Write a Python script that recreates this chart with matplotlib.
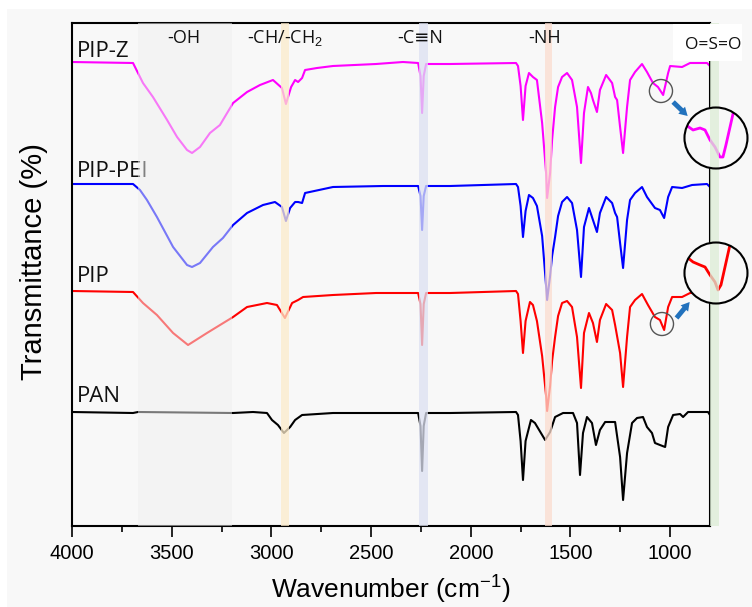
import matplotlib
matplotlib.use("Agg")
import matplotlib.pyplot as plt
from matplotlib.patches import Ellipse, Rectangle

plt.rcParams['mathtext.fontset'] = 'custom'
plt.rcParams['mathtext.rm'] = 'Liberation Sans'
plt.rcParams['mathtext.it'] = 'Liberation Sans'

# ---------------- data (offset transmittance, arbitrary units) ----------------
wn_pipz = [4000, 3694, 3644, 3594, 3523, 3473, 3423, 3398, 3358, 3308, 3258, 3192, 3122, 3057,
           2992, 2947, 2927, 2901, 2881, 2866, 2846, 2831, 2771, 2691, 2475, 2340, 2264, 2252,
           2244, 2236, 2224, 2104, 1773, 1763, 1750, 1738, 1725, 1708, 1688, 1668, 1642, 1622,
           1617, 1602, 1592, 1577, 1562, 1542, 1517, 1492, 1467, 1447, 1432, 1412, 1397, 1387,
           1367, 1352, 1321, 1291, 1276, 1266, 1251, 1236, 1216, 1201, 1176, 1141, 1116, 1086,
           1061, 1035, 1010, 1000, 940, 900, 815, 800]
t_pipz = [464, 463, 443, 429, 406, 389, 376, 373, 379, 393, 401, 423, 434, 441,
          446, 438, 422, 439, 446, 444, 448, 456, 458, 460, 462, 464, 463, 450,
          413, 450, 462, 462, 463, 460, 440, 406, 440, 453, 449, 446, 403, 353,
          328, 353, 386, 419, 439, 449, 453, 446, 419, 363, 413, 439, 433, 426,
          414, 436, 451, 443, 429, 426, 399, 373, 419, 446, 454, 462, 454, 443,
          439, 431, 453, 460, 459, 463, 463, 460]

wn_pippei = [4000, 3694, 3659, 3624, 3574, 3493, 3423, 3398, 3358, 3293, 3243, 3192, 3122, 3042,
             2982, 2947, 2927, 2906, 2881, 2866, 2846, 2831, 2691, 2440, 2264, 2252, 2244, 2236,
             2224, 2104, 1773, 1763, 1750, 1738, 1725, 1708, 1688, 1668, 1642, 1622, 1617, 1602,
             1592, 1577, 1562, 1542, 1517, 1492, 1467, 1447, 1432, 1407, 1392, 1367, 1352, 1321,
             1291, 1276, 1266, 1251, 1236, 1216, 1201, 1176, 1141, 1116, 1076, 1051, 1030, 1010,
             990, 940, 890, 815, 800]
t_pippei = [342, 342, 336, 326, 309, 279, 261, 259, 263, 279, 288, 301, 313, 321,
            324, 319, 305, 318, 324, 324, 323, 333, 339, 340, 340, 330, 296, 330,
            340, 340, 342, 339, 320, 289, 315, 331, 328, 320, 290, 240, 226, 250,
            270, 289, 310, 324, 329, 323, 296, 249, 299, 318, 309, 294, 313, 329,
            323, 313, 309, 283, 258, 306, 326, 333, 339, 329, 318, 316, 308, 329,
            339, 338, 341, 342, 339]

wn_pip = [4000, 3694, 3644, 3574, 3493, 3418, 3323, 3192, 3122, 3022, 2972, 2932, 2896, 2866,
          2841, 2691, 2475, 2264, 2252, 2244, 2236, 2224, 2104, 1773, 1763, 1750, 1738, 1725,
          1703, 1688, 1668, 1642, 1622, 1617, 1602, 1592, 1577, 1562, 1542, 1517, 1492, 1467,
          1447, 1432, 1407, 1387, 1367, 1352, 1321, 1291, 1276, 1251, 1236, 1216, 1201, 1176,
          1141, 1111, 1076, 1051, 1030, 1010, 990, 940, 900, 800]
t_pip = [235, 234, 223, 211, 193, 181, 193, 209, 219, 223, 221, 208, 223, 226,
         229, 231, 233, 233, 222, 181, 222, 233, 233, 235, 232, 205, 173, 205,
         224, 221, 205, 170, 130, 115, 140, 165, 189, 210, 223, 225, 219, 189,
         138, 193, 213, 203, 184, 206, 222, 216, 201, 173, 139, 189, 219, 226,
         232, 221, 209, 206, 196, 219, 229, 229, 233, 233]

wn_pan = [4000, 3694, 3669, 3192, 3092, 3022, 2997, 2967, 2937, 2906, 2881, 2846, 2691, 2264,
          2252, 2244, 2236, 2224, 2104, 1773, 1763, 1750, 1738, 1725, 1698, 1678, 1627, 1602,
          1577, 1537, 1487, 1467, 1452, 1437, 1417, 1392, 1372, 1352, 1326, 1276, 1251, 1236,
          1216, 1191, 1166, 1136, 1116, 1091, 1076, 1051, 1025, 1010, 985, 950, 935, 910,
          810, 800]
t_pan = [114, 113, 114, 113, 114, 113, 106, 101, 93, 99, 106, 111, 113, 113,
         100, 55, 100, 113, 113, 114, 111, 85, 46, 85, 106, 103, 86, 94,
         109, 113, 113, 103, 51, 93, 109, 103, 81, 96, 104, 104, 69, 26,
         73, 103, 108, 109, 99, 93, 83, 81, 79, 99, 111, 112, 109, 114,
         114, 111]

# magnified views shown in the circular insets
wn_zoom_pipz = [935, 885, 850, 825, 800, 775, 750, 735, 720, 670]
t_zoom_pipz = [403, 396, 398, 396, 386, 379, 369, 369, 381, 425]
wn_zoom_pip = [935, 885, 850, 825, 800, 775, 760, 745, 690]
t_zoom_pip = [272, 264, 261, 259, 251, 244, 236, 241, 290]

names = ["PIP-Z", "PIP-PEI", "PIP", "PAN"]
colors = ["#FF00FF", "#0000FF", "#FF0000", "#000000"]
label_y = [469, 349, 244, 124]

bands = [(3670, 3200), (2952, 2912), (2258, 2213), (1628, 1594), (800, 757)]
band_colors = ["#F0F0F0", "#FCEBCB", "#DDE1F2", "#FBDCCF", "#DCEDD6"]
band_labels = ["-OH", "-CH/-CH$_2$", "-C\u2261N", "-NH"]
band_label_x = [3438, 2932, 2254, 1632]

BG = "#F8F8F8"

fig = plt.figure(figsize=(7.52, 6.07), dpi=100, facecolor="white")
fig.patches.append(Rectangle((7 / 752, 0), 1, 598 / 607, transform=fig.transFigure,
                             facecolor=BG, edgecolor="none", zorder=-10))
ax = fig.add_axes([72 / 752, 81 / 607, 638 / 752, 503 / 607])
ax.set_facecolor(BG)

for w, t, c in zip([wn_pipz, wn_pippei, wn_pip, wn_pan], [t_pipz, t_pippei, t_pip, t_pan], colors):
    ax.plot(w, t, color=c, lw=1.5, zorder=2, solid_joinstyle="round")

lab_font = ["Open Sans", "DejaVu Sans"]
for n, y in zip(names, label_y):
    ax.text(3975, y, n, fontsize=16, family=lab_font, ha="left", va="baseline",
            color="#111111", zorder=2.5)

for i, ((a, b), c) in enumerate(zip(bands, band_colors)):
    sp = ax.axvspan(a, b, color=c, alpha=0.5 if i == 0 else 0.75, lw=0,
                    zorder=3 if i < 4 else 7)
    if i == 4:
        sp.set_clip_on(False)

for s, x in zip(band_labels, band_label_x):
    ax.text(x, 483, s, fontsize=13, family=lab_font, ha="center", va="baseline",
            color="#111111", zorder=4)

# insets
for (cx, cy), wz, tz, c in [((770, 388), wn_zoom_pipz, t_zoom_pipz, colors[0]),
                            ((770, 253), wn_zoom_pip, t_zoom_pip, colors[2])]:
    fill = Ellipse((cx, cy), 316, 61, facecolor=BG, edgecolor="none",
                   zorder=5, clip_on=False)
    ax.add_patch(fill)
    ln, = ax.plot(wz, tz, color=c, lw=2.0, zorder=6)
    ln.set_clip_path(fill)
    ln.set_clip_box(None)
    ax.add_patch(Ellipse((cx, cy), 316, 61, facecolor="none", edgecolor="black",
                         lw=1.5, zorder=8, clip_on=False))
for (cx, cy) in [(1046, 435), (1041, 202)]:
    ax.add_patch(Ellipse((cx, cy), 116, 23, facecolor="none", edgecolor="#555555",
                         lw=1.0, zorder=8))
for (x0, y0, x1, y1) in [(985, 424, 912, 410), (968, 208, 902, 224)]:
    ax.annotate("", xy=(x1, y1), xytext=(x0, y0),
                arrowprops=dict(arrowstyle="simple,head_length=0.6,head_width=0.7,tail_width=0.35",
                                color="#2272BD", lw=0, shrinkA=0, shrinkB=0),
                zorder=8, annotation_clip=False)

ax.add_patch(Rectangle((985, 465), -345, 37, facecolor="white", edgecolor="none",
                       zorder=9, clip_on=False))
ax.text(785, 477, "O=S=O", fontsize=12.5, family=lab_font, ha="center", va="baseline",
        color="#111111", zorder=10, clip_on=False)

ax.set_xlim(4000, 800)
ax.set_ylim(0, 503)
ax.set_xticks([4000, 3500, 3000, 2500, 2000, 1500, 1000])
ax.set_xticks([3750, 3250, 2750, 2250, 1750, 1250, 1000], minor=True)
ax.set_yticks([])
ax.tick_params(axis="x", which="major", direction="out", length=8, width=1.2,
               labelsize=14.5, pad=5)
ax.tick_params(axis="x", which="minor", direction="out", length=4.5, width=1.2)
for lbl in ax.get_xticklabels():
    lbl.set_family("Liberation Sans")
for sp in ax.spines.values():
    sp.set_linewidth(1.5)

ax.set_xlabel("Wavenumber (cm$^{-1}$)", fontsize=19, family="Liberation Sans", labelpad=8)
ax.set_ylabel("Transmittance (%)", fontsize=21, family="Liberation Sans")
ax.yaxis.set_label_coords(-0.038, 0.525)

fig.savefig("out.png", dpi=100, facecolor=fig.get_facecolor())
